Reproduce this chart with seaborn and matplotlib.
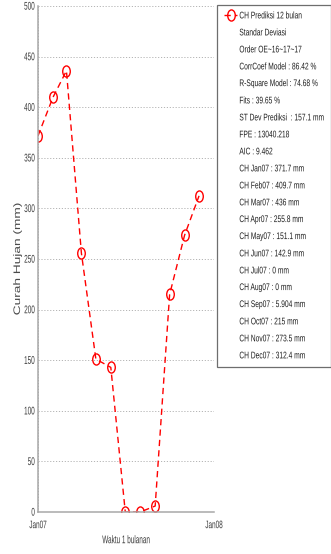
import matplotlib
matplotlib.use("Agg")
import matplotlib.pyplot as plt
import matplotlib.dates as mdates
import matplotlib.patheffects as pe
from matplotlib.lines import Line2D
from matplotlib.path import Path
from matplotlib.transforms import Affine2D
import seaborn as sns
import pandas as pd

# Monthly rainfall prediction for 2007
months = ["2007-01-01", "2007-02-01", "2007-03-01", "2007-04-01", "2007-05-01", "2007-06-01",
          "2007-07-01", "2007-08-01", "2007-09-01", "2007-10-01", "2007-11-01", "2007-12-01"]
rainfall = [371.7, 409.7, 436, 255.8, 151.1, 142.9, 0, 0, 5.904, 215, 273.5, 312.4]
month_names = ["Jan07", "Feb07", "Mar07", "Apr07", "May07", "Jun07",
               "Jul07", "Aug07", "Sep07", "Oct07", "Nov07", "Dec07"]
rainfall_text = ["371.7", "409.7", "436", "255.8", "151.1", "142.9",
                 "0", "0", "5.904", "215", "273.5", "312.4"]
stats_lines = ["Standar Deviasi", "Order OE~16~17~17", "CorrCoef Model : 86.42 %",
               "R-Square Model : 74.68 %", "Fits : 39.65 %", "ST Dev Prediksi  : 157.1 mm",
               "FPE : 13040.218", "AIC : 9.462"]
series_label = "CH Prediksi 12 bulan"
y_ticks = [0, 50, 100, 150, 200, 250, 300, 350, 400, 450, 500]
x_ticks = ["2007-01-01", "2008-01-01"]


class Stretch(pe.AbstractPathEffect):
    """Scale glyph outlines (in text coordinates) about a chosen anchor."""

    def __init__(self, sx=1.0, sy=1.0, xanchor="center", yanchor="center"):
        super().__init__()
        self.sx, self.sy = sx, sy
        self.xanchor, self.yanchor = xanchor, yanchor

    @staticmethod
    def _pick(vals, how):
        if how == "low":
            return vals.min()
        if how == "high":
            return vals.max()
        if how == "zero":
            return 0.0
        return 0.5 * (vals.min() + vals.max())

    def draw_path(self, renderer, gc, tpath, affine, rgbFace=None):
        v = tpath.vertices
        if len(v) == 0:
            return
        x0 = self._pick(v[:, 0], self.xanchor)
        y0 = self._pick(v[:, 1], self.yanchor)
        t = (Affine2D().translate(-x0, -y0).scale(self.sx, self.sy)
             .translate(x0, y0) + affine)
        renderer.draw_path(gc, tpath, t, rgbFace)


sns.set_theme(style="white")
plt.rcParams["font.family"] = ["Liberation Sans", "DejaVu Sans"]

# Tall, narrow open circle marker
oval = Path.unit_circle().transformed(Affine2D().scale(0.68, 1.0))

df = pd.DataFrame({"date": pd.to_datetime(months), "ch": rainfall})

W, H = 331, 554
fig = plt.figure(figsize=(W / 100, H / 100), dpi=100)
ax = fig.add_axes([38 / W, (H - 512) / H, 176 / W, 506 / H])

line_kw = dict(color="red", linestyle=(0, (4.5, 3)), linewidth=1.0, marker=oval,
               markersize=8, markerfacecolor="none", markeredgecolor="red",
               markeredgewidth=1.0)
sns.lineplot(data=df, x="date", y="ch", ax=ax, legend=False, **line_kw)

ax.set_xlim(pd.Timestamp(x_ticks[0]), pd.Timestamp(x_ticks[1]))
ax.set_ylim(0, 500)
ax.set_yticks(y_ticks)
ax.set_yticklabels([str(v) for v in y_ticks])
ax.set_xticks(pd.to_datetime(x_ticks))
ax.xaxis.set_major_formatter(mdates.DateFormatter("%b%y"))
ax.grid(True, linestyle=(0, (1.2, 1.8)), color="#b4b4b4", linewidth=0.7)
for side in ["top", "right"]:
    ax.spines[side].set_visible(False)
for side in ["left", "bottom"]:
    ax.spines[side].set_color("#a8a8a8")
    ax.spines[side].set_linewidth(1.1)
ax.tick_params(axis="both", direction="in", length=2, colors="#a8a8a8",
               labelsize=4.6, labelcolor="#3a3a3a")
ax.tick_params(axis="y", pad=2.2)
ax.tick_params(axis="x", pad=6.5)

ax.set_xlabel("Waktu 1 bulanan", fontsize=4.6, color="#3a3a3a", labelpad=7)
ax.set_ylabel("Curah Hujan (mm)", fontsize=6.8, color="#4a4a4a", labelpad=1.5)

# Condensed lettering for ticks and axis labels
for lbl in ax.get_yticklabels():
    lbl.set_path_effects([Stretch(sy=1.75, yanchor="center")])
for lbl in ax.get_xticklabels():
    lbl.set_path_effects([Stretch(sy=1.7, yanchor="high")])
ax.xaxis.label.set_path_effects([Stretch(sy=1.75, yanchor="high")])
ax.yaxis.label.set_path_effects([Stretch(sx=1.45, xanchor="center")])

labels = [series_label] + stats_lines + [f"CH {m} : {v} mm" for m, v in zip(month_names, rainfall_text)]
handles = [Line2D([], [], **line_kw)]
handles += [Line2D([], [], linestyle="none") for _ in labels[1:]]
leg = fig.legend(handles, labels, loc="upper left", bbox_to_anchor=(217 / W, 1 - 5 / H),
                 fontsize=4.8, frameon=True, fancybox=False, handlelength=1.9,
                 handletextpad=0.35, labelspacing=1.5, borderpad=1.1, borderaxespad=0)
leg.get_frame().set_edgecolor("#4a4a4a")
leg.get_frame().set_linewidth(0.9)
for t in leg.get_texts():
    t.set_color("#1e1e1e")
    t.set_path_effects([Stretch(sy=1.45, yanchor="center")])

fig.savefig("out.png", dpi=100)
